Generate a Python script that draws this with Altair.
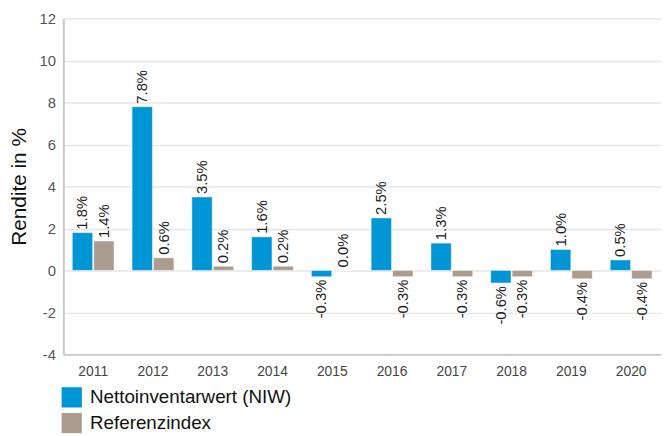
import altair as alt
import pandas as pd

years = ["2011", "2012", "2013", "2014", "2015", "2016", "2017", "2018", "2019", "2020"]
niw = [1.8, 7.8, 3.5, 1.6, -0.3, 2.5, 1.3, -0.6, 1.0, 0.5]
ref = [1.4, 0.6, 0.2, 0.2, 0.0, -0.3, -0.3, -0.3, -0.4, -0.4]
series = ["Nettoinventarwert (NIW)", "Referenzindex"]
colors = ["#0096d6", "#ab9c8f"]

rows = []
for i, y in enumerate(years):
    rows.append({"year": y, "series": series[0], "value": niw[i]})
    rows.append({"year": y, "series": series[1], "value": ref[i]})
df = pd.DataFrame(rows)
df["label"] = df["value"].map(lambda v: f"{v:.1f}%")

FONT = "Liberation Sans"

x = alt.X("year:N", title=None, scale=alt.Scale(paddingInner=0.3, paddingOuter=0.15),
          axis=alt.Axis(labelAngle=0, labelFontSize=14, labelColor="#444", labelFont=FONT,
                        ticks=False, domainColor="#c8c8c8", domainWidth=2, labelPadding=10))
xo = alt.XOffset("series:N", sort=series, scale=alt.Scale(paddingInner=0.05))
y = alt.Y("value:Q", title="Rendite in %",
          scale=alt.Scale(domain=[-4, 12], nice=False),
          axis=alt.Axis(values=[-4, -2, 0, 2, 4, 6, 8, 10, 12], ticks=False,
                        labelExpr="'' + datum.value",
                        labelFontSize=15, labelColor="#555", labelFont=FONT, labelPadding=8,
                        domainColor="#c8c8c8", domainWidth=2, gridColor="#e6e6e6", gridWidth=1.5,
                        titleFont=FONT, titleFontSize=21, titleFontWeight="normal", titleColor="#111",
                        titleAngle=270, titleX=-34, titleY=170, titleAlign="center",
                        titleBaseline="bottom"))

bars = alt.Chart(df).mark_bar(stroke="white", strokeWidth=0.5).encode(
    x=x, xOffset=xo, y=y,
    color=alt.Color("series:N", sort=series,
                    scale=alt.Scale(domain=series, range=colors),
                    legend=alt.Legend(title=None, orient="none", legendX=-2, legendY=373,
                                      symbolType="square", symbolSize=420, symbolStrokeWidth=0,
                                      labelFontSize=19, labelFont=FONT, labelColor="#111",
                                      labelLimit=0, rowPadding=5, labelOffset=8, symbolOpacity=1)),
)

pos = alt.Chart(df).transform_filter("datum.value >= 0").mark_text(
    angle=270, align="left", baseline="middle", dx=3, fontSize=15, font=FONT, color="#222"
).encode(x=x, xOffset=xo, y=y, text="label:N")

neg = alt.Chart(df).transform_filter("datum.value < 0").mark_text(
    angle=270, align="right", baseline="middle", dx=-3, fontSize=15, font=FONT, color="#222"
).encode(x=x, xOffset=xo, y=y, text="label:N")

chart = alt.layer(bars, pos, neg).properties(
    width=605, height=340,
    autosize=alt.AutoSizeParams(type="none"),
    padding={"left": 56, "top": 8, "right": 1, "bottom": 80},
).configure_view(stroke=None)

chart.save("out.html", embed_options={"renderer": "svg", "actions": False})
